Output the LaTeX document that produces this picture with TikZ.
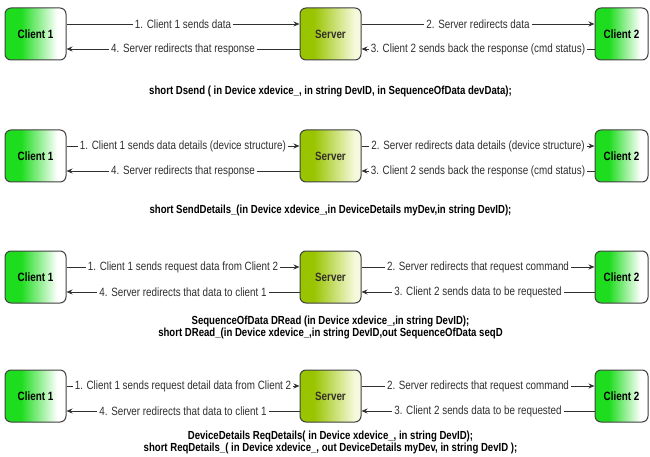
\documentclass[tikz,border=0pt]{standalone}
\usepackage{fontspec}
\setmainfont{Liberation Sans}[FakeStretch=0.82]
\usetikzlibrary{arrows.meta, positioning}
\definecolor{clgreen}{HTML}{1EDC1E}
\definecolor{svolive}{HTML}{99C400}
\definecolor{svpale}{HTML}{F6F9DC}
\definecolor{edgegray}{HTML}{404040}
\definecolor{linegray}{HTML}{303030}
\pgfdeclarehorizontalshading{clientshade}{100bp}{color(0bp)=(clgreen); color(25bp)=(clgreen); color(38bp)=(clgreen); color(68bp)=(white); color(100bp)=(white)}
\pgfdeclarehorizontalshading{servershade}{100bp}{color(0bp)=(svolive); color(25bp)=(svolive); color(36bp)=(svolive); color(70bp)=(svpale); color(100bp)=(svpale)}

\begin{document}
\begin{tikzpicture}[
  x=1pt, y=1pt,
  node distance=233pt,
  every node/.style={font=\fontsize{12}{14}\selectfont},
  box/.style={rectangle, rounded corners=6pt, draw=edgegray, line width=1pt, shading=#1, minimum width=61pt, minimum height=52pt, font=\fontsize{12}{14}\selectfont\bfseries},
  client/.style={box=clientshade},
  server/.style={box=servershade, text=black!85!olive},
  arrow/.style={-{Stealth[length=6pt, width=5pt]}, line width=0.9pt, linegray},
  lbl/.style={fill=white, inner xsep=2pt, inner ysep=0pt, text=linegray},
  call/.style={font=\fontsize{11.7}{12.5}\selectfont\bfseries, align=center, inner sep=0pt},
]
\useasboundingbox (0,0) rectangle (650,-457);

% Dsend
\node[client] (c1a) at (35.5,-34) {Client 1};
\node[server, right=of c1a] (srva) {Server};
\node[client, minimum width=53pt, right=of srva] (c2a) {Client 2};
\draw[arrow] ([yshift=10pt]c1a.east) -- node[lbl] {1. Client 1 sends data} ([yshift=10pt]srva.west);
\draw[arrow] ([yshift=-15pt]srva.west) -- node[lbl] {4. Server redirects that response} ([yshift=-15pt]c1a.east);
\draw[arrow] ([yshift=10pt]srva.east) -- node[lbl] {2. Server redirects data} ([yshift=10pt]c2a.west);
\draw[arrow] ([yshift=-15pt]c2a.west) -- node[lbl] {3. Client 2 sends back the response (cmd status)} ([yshift=-15pt]srva.east);
\node[call, below=25pt of srva] (calla) {short Dsend ( in Device xdevice\_, in string DevID, in SequenceOfData devData);};

% SendDetails_
\node[client] (c1b) at (35.5,-156) {Client 1};
\node[server, right=of c1b] (srvb) {Server};
\node[client, minimum width=53pt, right=of srvb] (c2b) {Client 2};
\draw[arrow] ([yshift=10pt]c1b.east) -- node[lbl] {1. Client 1 sends data details (device structure)} ([yshift=10pt]srvb.west);
\draw[arrow] ([yshift=-15pt]srvb.west) -- node[lbl] {4. Server redirects that response} ([yshift=-15pt]c1b.east);
\draw[arrow] ([yshift=10pt]srvb.east) -- node[lbl] {2. Server redirects data details (device structure)} ([yshift=10pt]c2b.west);
\draw[arrow] ([yshift=-15pt]c2b.west) -- node[lbl] {3. Client 2 sends back the response (cmd status)} ([yshift=-15pt]srvb.east);
\node[call, below=22pt of srvb] (callb) {short SendDetails\_(in Device xdevice\_,in DeviceDetails myDev,in string DevID);};

% DRead
\node[client] (c1c) at (35.5,-277) {Client 1};
\node[server, right=of c1c] (srvc) {Server};
\node[client, minimum width=53pt, right=of srvc] (c2c) {Client 2};
\draw[arrow] ([yshift=10pt]c1c.east) -- node[lbl] {1. Client 1 sends request data from Client 2} ([yshift=10pt]srvc.west);
\draw[arrow] ([yshift=-15pt]srvc.west) -- node[lbl] {4. Server redirects that data to client 1} ([yshift=-15pt]c1c.east);
\draw[arrow] ([yshift=10pt]srvc.east) -- node[lbl] {2. Server redirects that request command} ([yshift=10pt]c2c.west);
\draw[arrow] ([yshift=-15pt]c2c.west) -- node[lbl] {3. Client 2 sends data to be requested} ([yshift=-15pt]srvc.east);
\node[call, below=12pt of srvc] (callc) {SequenceOfData DRead (in Device xdevice\_,in string DevID);\\short DRead\_(in Device xdevice\_,in string DevID,out SequenceOfData seqD};

% ReqDetails
\node[client] (c1d) at (35.5,-396) {Client 1};
\node[server, right=of c1d] (srvd) {Server};
\node[client, minimum width=53pt, right=of srvd] (c2d) {Client 2};
\draw[arrow] ([yshift=10pt]c1d.east) -- node[lbl] {1. Client 1 sends request detail data from Client 2} ([yshift=10pt]srvd.west);
\draw[arrow] ([yshift=-15pt]srvd.west) -- node[lbl] {4. Server redirects that data to client 1} ([yshift=-15pt]c1d.east);
\draw[arrow] ([yshift=10pt]srvd.east) -- node[lbl] {2. Server redirects that request command} ([yshift=10pt]c2d.west);
\draw[arrow] ([yshift=-15pt]c2d.west) -- node[lbl] {3. Client 2 sends data to be requested} ([yshift=-15pt]srvd.east);
\node[call, below=8pt of srvd] (calld) {DeviceDetails ReqDetails( in Device xdevice\_, in string DevID);\\short ReqDetails\_( in Device xdevice\_, out DeviceDetails myDev, in string DevID );};
\end{tikzpicture}
\end{document}
